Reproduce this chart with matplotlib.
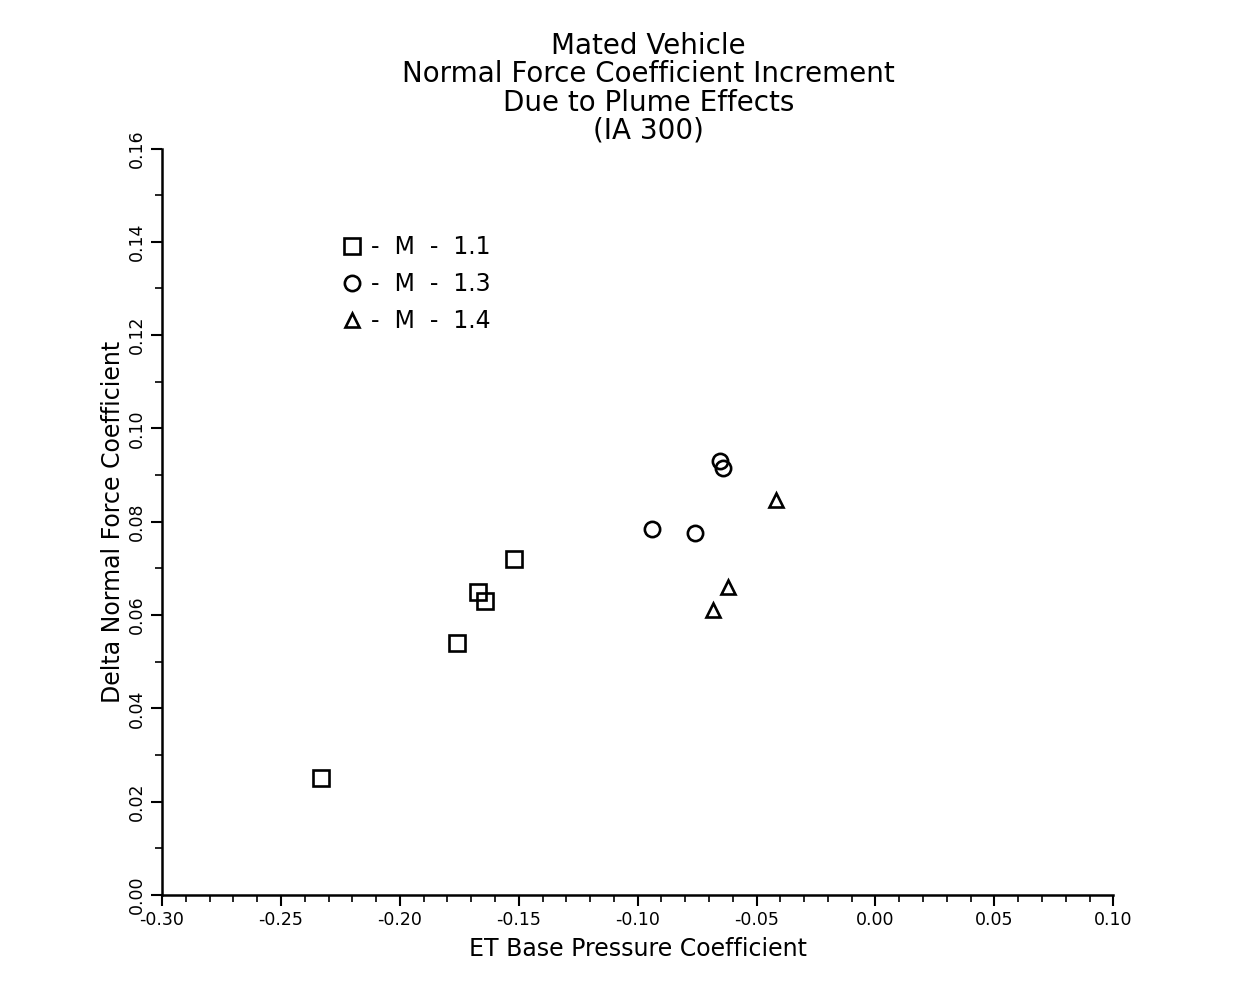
import matplotlib
matplotlib.use("Agg")
import matplotlib.pyplot as plt
from matplotlib.ticker import MultipleLocator, FormatStrFormatter
from matplotlib.lines import Line2D

# Data
m11_x = [-0.233, -0.176, -0.167, -0.164, -0.152]
m11_y = [0.025, 0.054, 0.065, 0.063, 0.072]
m13_x = [-0.094, -0.076, -0.0655, -0.064]
m13_y = [0.0785, 0.0775, 0.093, 0.0915]
m14_x = [-0.0685, -0.062, -0.042]
m14_y = [0.061, 0.066, 0.0847]
legend_labels = ["-  M  -  1.1", "-  M  -  1.3", "-  M  -  1.4"]

title = "Mated Vehicle\nNormal Force Coefficient Increment\nDue to Plume Effects\n(IA 300)"
xlabel = "ET Base Pressure Coefficient"
ylabel = "Delta Normal Force Coefficient"

plt.rcParams['font.family'] = ['DejaVu Sans']
fig = plt.figure(figsize=(12.37, 9.9), dpi=100)
ax = fig.add_axes([0.131, 0.096, 0.769, 0.754])

mk = dict(linestyle='none', markerfacecolor='none', markeredgecolor='black',
          markeredgewidth=1.9, markersize=11)
ax.plot(m11_x, m11_y, marker='s', **mk)
ax.plot(m13_x, m13_y, marker='o', **mk)
ax.plot(m14_x, m14_y, marker='^', **dict(mk, markersize=10))

ax.set_xlim(-0.30, 0.10)
ax.set_ylim(0.0, 0.16)
ax.xaxis.set_major_locator(MultipleLocator(0.05))
ax.xaxis.set_minor_locator(MultipleLocator(0.01))
ax.yaxis.set_major_locator(MultipleLocator(0.02))
ax.yaxis.set_minor_locator(MultipleLocator(0.01))
ax.xaxis.set_major_formatter(FormatStrFormatter('%.2f'))
ax.yaxis.set_major_formatter(FormatStrFormatter('%.2f'))

for s in ['top', 'right']:
    ax.spines[s].set_visible(False)
for s in ['left', 'bottom']:
    ax.spines[s].set_linewidth(1.8)

ax.tick_params(axis='both', which='major', direction='out', length=8, width=1.5,
               labelsize=12.5)
ax.tick_params(axis='both', which='minor', direction='out', length=5, width=1.2)
for lab in ax.get_yticklabels():
    lab.set_rotation(90)
    lab.set_va('center')

ax.set_xlabel(xlabel, fontsize=17, labelpad=6)
ax.set_ylabel(ylabel, fontsize=17, labelpad=2)

fig.text(0.524, 0.968, title, ha='center', va='top', fontsize=20, linespacing=1.02)

handles = [
    Line2D([], [], marker='s', **mk),
    Line2D([], [], marker='o', **mk),
    Line2D([], [], marker='^', **dict(mk, markersize=10)),
]
ax.legend(handles, legend_labels, loc='upper left', bbox_to_anchor=(0.18, 0.897),
          frameon=False, fontsize=17, handlelength=0.8, handletextpad=0.4,
          labelspacing=0.55, borderaxespad=0)

fig.savefig("out.png", dpi=100)
